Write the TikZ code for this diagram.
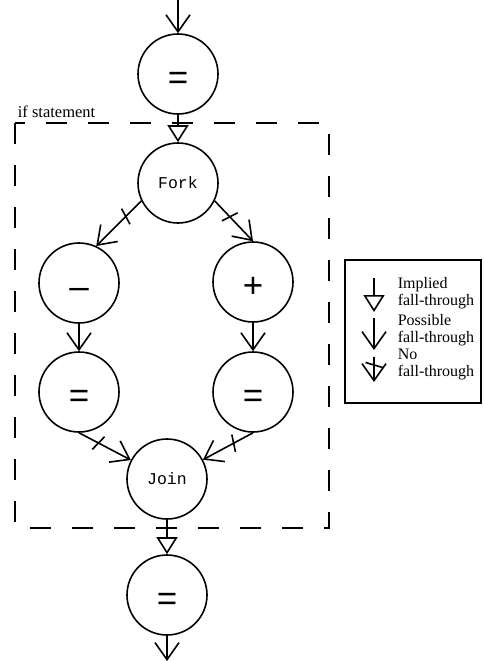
\documentclass[tikz,border=0pt]{standalone}
\usepackage{fontspec}
\setmainfont{Liberation Serif}
\newfontfamily\monof{Liberation Mono}
\newfontfamily\symf{Liberation Sans}
\usetikzlibrary{arrows.meta,decorations.markings}
\begin{document}
\begin{tikzpicture}[x=1pt,y=-1pt, line width=1.6pt,
  op/.style={circle, draw, minimum size=80pt, inner sep=0pt, text height=31pt, text depth=0pt, font=\symf\fontsize{35}{35}\selectfont},
  ctl/.style={circle, draw, minimum size=80pt, inner sep=0pt, font=\monof\fontsize{16.5}{18}\selectfont},
  poss/.style={-{Straight Barb[length=17pt,width=24pt,line width=1.6pt]}},
  impl/.style={-{Triangle[open,length=17pt,width=21pt,line width=1.6pt]}},
  nofall/.style={poss, postaction={decorate}, decoration={markings, mark=at position #1 with {\draw[-, line width=1.6pt] (-2.5pt,-8.5pt) -- (2.5pt,8.5pt);}}},
  nofall/.default=22pt,
  lbl/.style={font=\fontsize{16}{16}\selectfont, inner sep=0pt, anchor=base west},
  frame/.style={dash pattern=on 21pt off 21pt, line width=1.8pt}
]
\useasboundingbox (0,0) rectangle (483,661);

% nodes
\node[op] (top) at (178,74) {=};
\node[ctl] (fork) at (178,183) {Fork};
\node[op] (minus) at (79,283) {\char"2013};
\node[op] (plus) at (253,282) {+};
\node[op] (eqL) at (79,392) {=};
\node[op] (eqR) at (253,392) {=};
\node[ctl] (join) at (167,479) {Join};
\node[op] (bot) at (167,595) {=};

\coordinate (in) at (178,0);
\coordinate (out) at (167,661);

% connectors
\draw[poss] (in) -- (top);
\draw[impl] (top) -- (fork);
\draw[nofall] (fork.206) -- (minus.65);
\draw[nofall] (fork.334) -- (plus.north);
\draw[poss] (minus) -- (eqL);
\draw[poss] (plus) -- (eqR);
\draw[nofall] (eqL.south) -- (join);
\draw[nofall] (eqR.south) -- (join);
\draw[impl] (join) -- (bot);
\draw[poss] (bot) -- (out);

% if statement frame
\draw[frame] (15,123) rectangle (329,528);
\node[lbl, font=\fontsize{16.5}{16}\selectfont] (iflbl) at (17,117) {if statement};

% legend
\draw (345,260) rectangle (481,403);
\coordinate (l1a) at (374,278); \coordinate (l1b) at (374,312);
\coordinate (l2a) at (374,318); \coordinate (l2b) at (374,350);
\coordinate (l3a) at (374,357); \coordinate (l3b) at (374,382);
\draw[impl] (l1a) -- (l1b);
\draw[poss] (l2a) -- (l2b);
\draw[nofall=8pt] (l3a) -- (l3b);
\node[lbl] (t1a) at (397,288) {Implied};
\node[lbl] (t1b) at (397,305) {fall-through};
\node[lbl] (t2a) at (397,325) {Possible};
\node[lbl] (t2b) at (397,342) {fall-through};
\node[lbl] (t3a) at (397,359) {No};
\node[lbl] (t3b) at (397,376) {fall-through};
\end{tikzpicture}
\end{document}
